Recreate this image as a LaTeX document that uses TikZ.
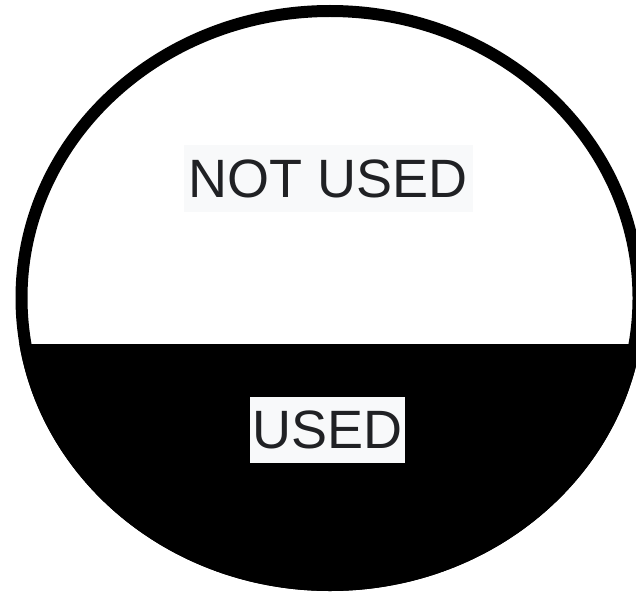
\documentclass[tikz,border=0pt]{standalone}
\usepackage{fontspec}
\setmainfont{Liberation Sans}
\usepackage{xcolor}
\definecolor{inkgrey}{HTML}{202124}
\definecolor{tagfill}{HTML}{F8F9FA}

\begin{document}
\begin{tikzpicture}[
  x=1pt, y=-1pt,
  tag/.style={fill=tagfill, text=inkgrey, inner sep=0pt, font=\fontsize{54}{54}\selectfont},
]
\useasboundingbox (0,0) rectangle (636,591);
% used part of the disc
\begin{scope}
\clip (330,298) ellipse [x radius=314.5, y radius=293];
\fill[black] (0,344) rectangle (660,600);
\end{scope}
% outline
\draw[black, line width=12pt] (330,298) ellipse [x radius=308.5, y radius=287];

% Labels
\node[tag, minimum width=289pt, minimum height=67pt] (notused) at (328.5,178.5) {NOT USED};
\node[tag, minimum width=155pt, minimum height=66pt] (used) at (327.5,430) {USED};
\end{tikzpicture}
\end{document}
